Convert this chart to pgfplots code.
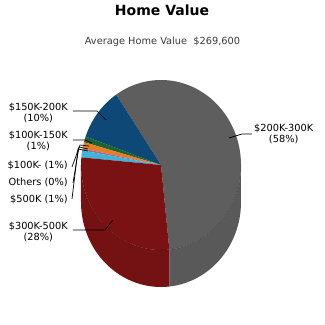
\documentclass[border=0pt]{standalone}
\usepackage{fontspec}
\setmainfont{DejaVu Sans}
\usepackage{pgfplots}
\usepackage{pgfplotstable}
\pgfplotsset{compat=1.18}

\definecolor{sGray}{RGB}{94,94,94}
\definecolor{sBlue}{RGB}{14,72,118}
\definecolor{sGreen}{RGB}{32,98,48}
\definecolor{sOrange}{RGB}{226,128,42}
\definecolor{sPurple}{RGB}{176,104,140}
\definecolor{sCyan}{RGB}{62,180,218}
\definecolor{sRed}{RGB}{122,18,20}
\definecolor{subText}{RGB}{60,60,60}

% Share of homes per value band (percent), counter-clockwise from the start angle
\pgfplotstableread[col sep=comma]{
share,color
57.8,sGray
10.1,sBlue
1.1,sGreen
1.2,sOrange
0.4,sPurple
1.3,sCyan
28.1,sRed
}\pietable

\newcommand\labfont{\fontsize{9.8}{11.8}\selectfont}

\begin{document}
\begin{tikzpicture}
\path[use as bounding box, fill=white] (0,0) rectangle (325pt,325pt);
\begin{axis}[
  x=1pt, y=1pt, xmin=0, xmax=325, ymin=0, ymax=325,
  scale only axis, hide axis, clip=false,
  at={(0,0)}, anchor=south west]

\pgfplotsextra{
  \def\cx{161}\def\cy{160}\def\rx{80}\def\ry{85}\def\dep{37}
  \pgfplotstablegetrowsof{\pietable}
  \pgfmathtruncatemacro\nrows{\pgfplotsretval-1}
  % side of the disc (only the front half is visible)
  \gdef\curang{-84}
  \foreach \i in {0,...,\nrows}{
    \pgfplotstablegetelem{\i}{share}\of\pietable \let\v\pgfplotsretval
    \pgfplotstablegetelem{\i}{color}\of\pietable \let\c\pgfplotsretval
    \pgfmathsetmacro\s{\curang}
    \pgfmathsetmacro\e{\curang+3.6*\v}
    \foreach \lo/\hi in {180/360,-180/0}{
      \pgfmathsetmacro\a{max(\s,\lo)}
      \pgfmathsetmacro\b{min(\e,\hi)}
      \pgfmathparse{\a<\b ? 1 : 0}
      \ifnum\pgfmathresult=1
        \pgfmathsetmacro\px{\cx+\rx*cos(\a)}
        \pgfmathsetmacro\py{\cy+\ry*sin(\a)}
        \fill[\c!95!black] (axis cs:\px,\py)
          arc[start angle=\a, end angle=\b, x radius=\rx pt, y radius=\ry pt]
          -- ++(0,-\dep pt)
          arc[start angle=\b, end angle=\a, x radius=\rx pt, y radius=\ry pt]
          -- cycle;
      \fi
    }
    \global\let\curang\e
  }
  % top face
  \gdef\curang{-84}
  \foreach \i in {0,...,\nrows}{
    \pgfplotstablegetelem{\i}{share}\of\pietable \let\v\pgfplotsretval
    \pgfplotstablegetelem{\i}{color}\of\pietable \let\c\pgfplotsretval
    \pgfmathsetmacro\s{\curang}
    \pgfmathsetmacro\e{\curang+3.6*\v}
    \pgfmathsetmacro\px{\cx+\rx*cos(\s)}
    \pgfmathsetmacro\py{\cy+\ry*sin(\s)}
    \fill[\c] (axis cs:\cx,\cy) -- (axis cs:\px,\py)
      arc[start angle=\s, end angle=\e, x radius=\rx pt, y radius=\ry pt]
      -- cycle;
    \global\let\curang\e
  }
  % rim of the top face
  \draw[black, opacity=0.15, line width=0.8pt] (axis cs:\cx-\rx,\cy)
    arc[start angle=180, end angle=360, x radius=\rx pt, y radius=\ry pt];
}

% leader lines
\draw[black, line width=0.7pt] (axis cs:73,214) -- (axis cs:97,214) -- (axis cs:106,205);
\draw[black, line width=0.7pt] (axis cs:73,185) -- (axis cs:85,185) -- (axis cs:92,182);
\draw[black, line width=0.7pt] (axis cs:72,158) -- (axis cs:80,180) -- (axis cs:89,179);
\draw[black, line width=0.7pt] (axis cs:73,142) -- (axis cs:79,178) -- (axis cs:88,176);
\draw[black, line width=0.7pt] (axis cs:72,126) -- (axis cs:78,176) -- (axis cs:88,174);
\draw[black, line width=0.7pt] (axis cs:73,95) -- (axis cs:105,95) -- (axis cs:113,105);
\draw[black, line width=0.7pt] (axis cs:252,191) -- (axis cs:242,191) -- (axis cs:229,187);

% labels
\node[anchor=east, align=center, font=\labfont, inner sep=0pt] at (axis cs:68,212) {\$150K-200K\\(10\%)};
\node[anchor=east, align=center, font=\labfont, inner sep=0pt] at (axis cs:68,184) {\$100K-150K\\(1\%)};
\node[anchor=east, font=\labfont, inner sep=0pt] at (axis cs:68,160) {\$100K- (1\%)};
\node[anchor=east, font=\labfont, inner sep=0pt] at (axis cs:68,143) {Others (0\%)};
\node[anchor=east, font=\labfont, inner sep=0pt] at (axis cs:68,126) {\$500K (1\%)};
\node[anchor=east, align=center, font=\labfont, inner sep=0pt] at (axis cs:68,93) {\$300K-500K\\(28\%)};
\node[anchor=west, align=center, font=\labfont, inner sep=0pt] at (axis cs:254,191) {\$200K-300K\\(58\%)};

% titles
\node[font=\fontsize{14}{16}\selectfont\bfseries] at (axis cs:162,315) {Home Value};
\node[font=\fontsize{9.8}{11}\selectfont, text=subText] at (axis cs:162.5,283) {Average Home Value\ \ \$269,600};
\end{axis}
\end{tikzpicture}
\end{document}
